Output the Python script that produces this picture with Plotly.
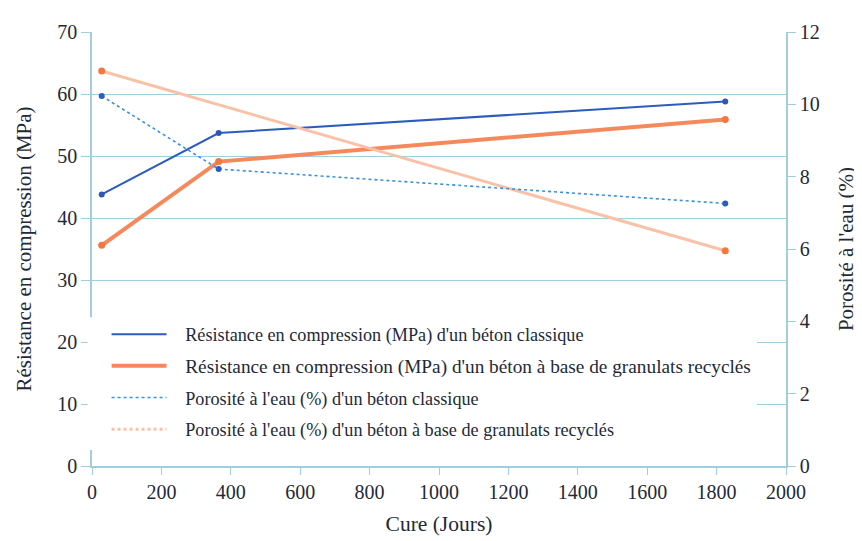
import plotly.graph_objects as go

cure_days = [28, 365, 1825]
res_classique = [43.8, 53.7, 58.8]
res_recycle = [35.6, 49.1, 55.9]
por_classique = [10.23, 8.21, 7.26]
por_recycle = [10.92, None, 5.95]

NB = "\u00a0\u00a0\u00a0"
names = [
    NB + "Résistance en compression (MPa) d'un béton classique",
    NB + "<span style='font-size:19.3px'>Résistance en compression (MPa) d'un béton à base de granulats recyclés</span>",
    NB + "Porosité à l'eau (%) d'un béton classique",
    NB + "Porosité à l'eau (%) d'un béton à base de granulats recyclés",
]

x_ticks = list(range(0, 2001, 200))
y_ticks = list(range(0, 71, 10))
y2_ticks = list(range(0, 13, 2))

C_BLUE = "#2c5cbf"
C_ORANGE = "#f5895c"
C_LBLUE = "#3b8fe0"
C_PEACH = "#f9c2a8"
GRID = "#9fcfde"
TXT = "#1e2a38"
FONT = "Liberation Serif, DejaVu Serif, serif"

fig = go.Figure()

# data traces
fig.add_trace(go.Scatter(x=cure_days, y=por_recycle, yaxis="y2", mode="lines+markers",
                         connectgaps=True, line=dict(color=C_PEACH, width=3),
                         marker=dict(color="#f4773f", size=7), showlegend=False))
fig.add_trace(go.Scatter(x=cure_days, y=por_classique, yaxis="y2", mode="lines+markers",
                         line=dict(color=C_LBLUE, width=1.6, dash="dot"),
                         marker=dict(color="#2c5cbf", size=6), showlegend=False))
fig.add_trace(go.Scatter(x=cure_days, y=res_recycle, mode="lines+markers",
                         line=dict(color=C_ORANGE, width=4),
                         marker=dict(color="#f4773f", size=7), showlegend=False))
fig.add_trace(go.Scatter(x=cure_days, y=res_classique, mode="lines+markers",
                         line=dict(color=C_BLUE, width=2),
                         marker=dict(color="#2c56b8", size=6), showlegend=False))

# legend-only traces
leg_styles = [
    dict(color=C_BLUE, width=2),
    dict(color=C_ORANGE, width=4),
    dict(color=C_LBLUE, width=1.6, dash="dot"),
    dict(color=C_PEACH, width=3, dash="dot"),
]
for i, (nm, ls) in enumerate(zip(names, leg_styles)):
    fig.add_trace(go.Scatter(x=[None], y=[None], mode="lines", name=nm, line=ls,
                             legendgroup="g%d" % i, showlegend=True))

# white panel behind the legend
fig.add_shape(type="rect", xref="paper", yref="paper",
              x0=-0.006, x1=0.958, y0=0.037, y1=0.343,
              fillcolor="white", line=dict(width=0), layer="above")

# Page body has an 8px margin: compensate so the plot sits where the reference has it
W, H = 854, 533
fig.update_layout(
    width=W, height=H,
    margin=dict(l=84, r=76, t=24, b=75),
    paper_bgcolor="white", plot_bgcolor="white",
    font=dict(family=FONT, color=TXT, size=19),
    showlegend=True,
    legend=dict(x=0.021, xanchor="left", y=0.346, yanchor="top",
                bgcolor="rgba(0,0,0,0)", borderwidth=0,
                font=dict(family=FONT, size=18.2, color=TXT),
                itemwidth=55, tracegroupgap=5,
                traceorder="grouped"),
    xaxis=dict(range=[0, 2000], tickvals=x_ticks, showgrid=False, zeroline=False,
               showline=True, linecolor=GRID, linewidth=1.5, automargin=False,
               ticks="outside", ticklen=7, tickcolor=GRID,
               tickfont=dict(family=FONT, size=20, color=TXT),
               title=dict(text="Cure (Jours)", font=dict(family=FONT, size=21.5, color=TXT),
                          standoff=14)),
    yaxis=dict(range=[0, 70], tickvals=y_ticks, showgrid=True, gridcolor=GRID, gridwidth=1.2,
               zeroline=False, showline=True, linecolor=GRID, linewidth=1.5, automargin=False,
               ticks="outside", ticklen=9, tickcolor=GRID,
               tickfont=dict(family=FONT, size=20, color=TXT),
               title=dict(text="Résistance en compression (MPa)",
                          font=dict(family=FONT, size=21, color=TXT), standoff=20)),
    yaxis2=dict(range=[0, 12], tickvals=y2_ticks, overlaying="y", side="right",
                showgrid=False, zeroline=False, showline=True, linecolor=GRID, linewidth=1.5,
                automargin=False,
                ticks="outside", ticklen=8, tickcolor=GRID,
                tickfont=dict(family=FONT, size=20, color=TXT),
                title=dict(text="Porosité à l'eau (%)",
                           font=dict(family=FONT, size=21, color=TXT), standoff=20)),
)

fig.write_html("out.html")
